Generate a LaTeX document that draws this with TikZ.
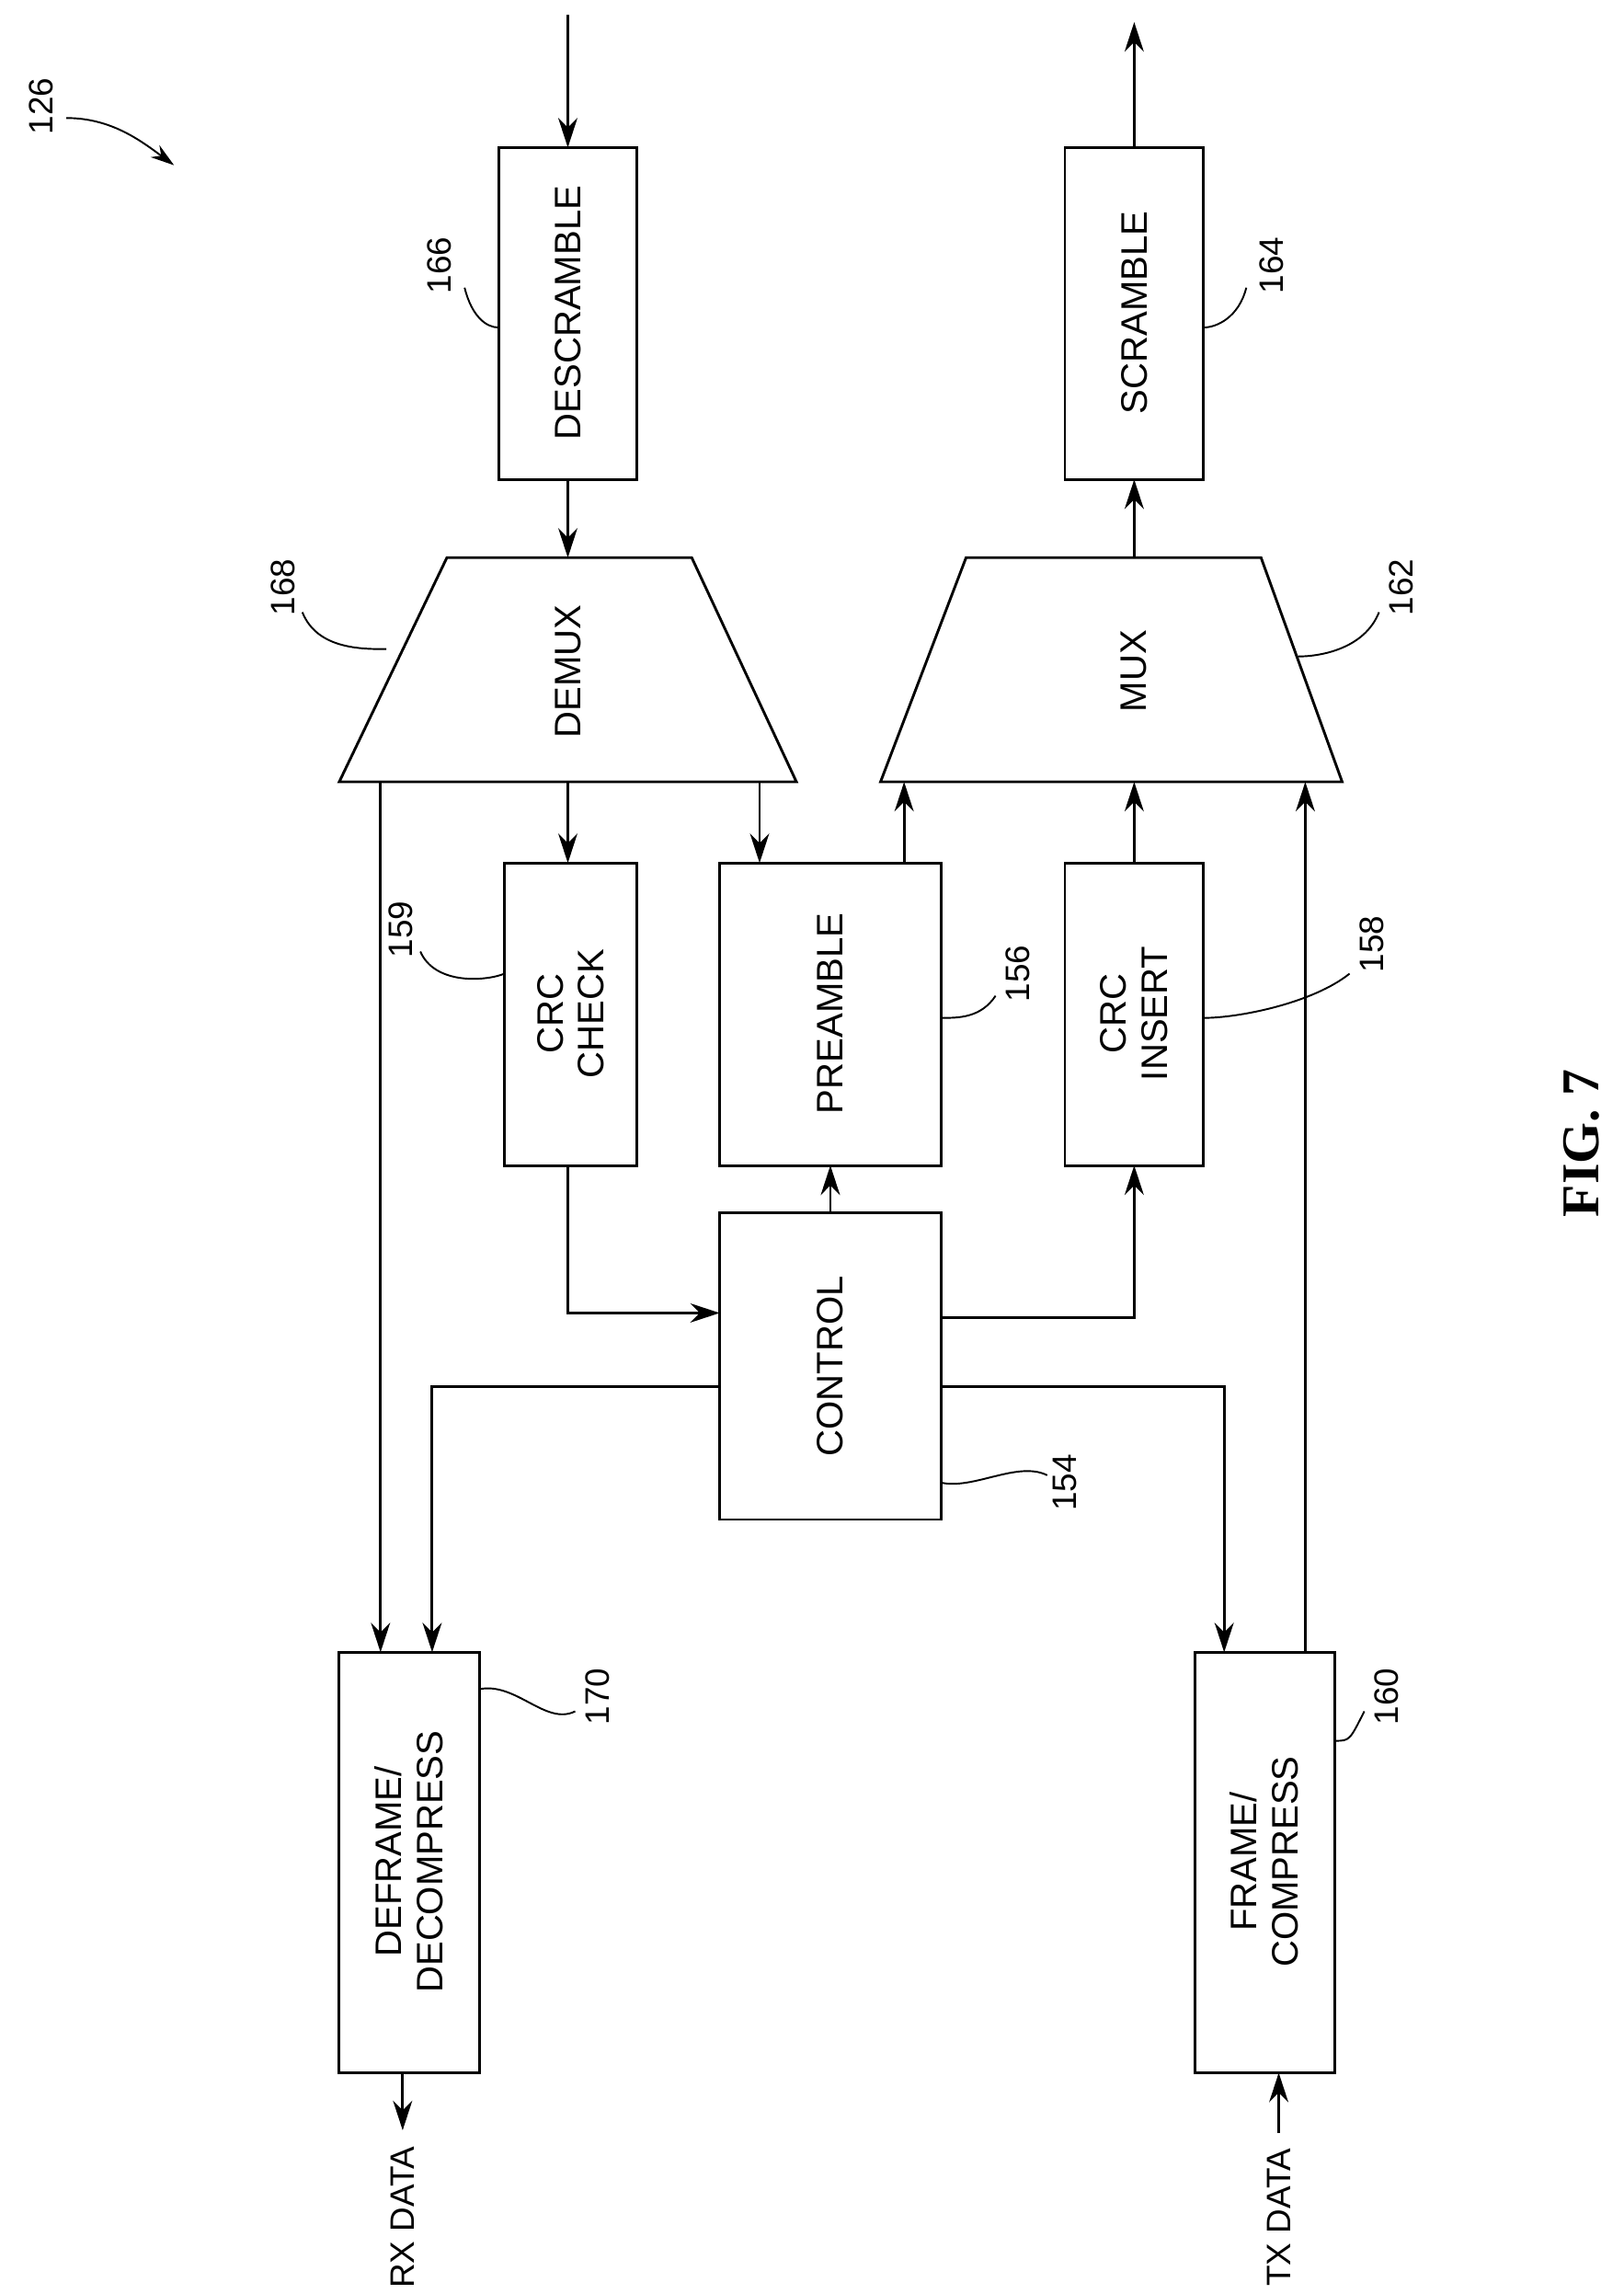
\documentclass[tikz,border=0pt]{standalone}
\usepackage{fontspec}
\setmainfont{Liberation Sans}
\newfontfamily\figfont{Liberation Serif}
\usetikzlibrary{arrows.meta}
\begin{document}
\begin{tikzpicture}[x=1pt,y=-1pt,line width=1.8pt,
  arr/.style={-{Stealth[length=20pt,width=13pt]}},
  box/.style={draw,line width=1.8pt},
  txt/.style={rotate=90,font=\fontsize{25}{28}\selectfont,align=center},
  lbl/.style={rotate=90,font=\fontsize{23}{26}\selectfont},
  lead/.style={line width=1.2pt}]
\useasboundingbox (0,0) rectangle (1101,1555);
% boxes
\draw[box] (338,100) rectangle (432,325); \node[txt] (desc) at (385,212) {DESCRAMBLE};
\draw[box] (722,100) rectangle (816,325); \node[txt] (scr) at (769,212) {SCRAMBLE};
\draw[box] (303,378) -- (469,378) -- (540,530) -- (230,530) -- cycle; \node[txt] (demux) at (385,455) {DEMUX};
\draw[box] (655,378) -- (855,378) -- (910,530) -- (597,530) -- cycle; \node[txt] (mux) at (769,455) {MUX};
\draw[box] (342,585) rectangle (432,790); \node[txt] (crcc) at (387,687) {CRC\\CHECK};
\draw[box] (488,585) rectangle (638,790); \node[txt] (pre) at (563,687) {PREAMBLE};
\draw[box] (722,585) rectangle (816,790); \node[txt] (crci) at (769,687) {CRC\\INSERT};
\draw[box] (488,822) rectangle (638,1030); \node[txt] (ctl) at (563,926) {CONTROL};
\draw[box] (230,1120) rectangle (325,1405); \node[txt] (defr) at (277,1262) {DEFRAME/\\DECOMPRESS};
\draw[box] (810,1120) rectangle (905,1405); \node[txt] (fr) at (857,1262) {FRAME/\\COMPRESS};
% arrows
\coordinate (in) at (385,10); \coordinate (out) at (769,15);
\draw[arr] (in) -- (385,100);
\draw[arr] (769,100) -- (out);
\draw[arr] (385,325) -- (385,378);
\draw[arr] (769,378) -- (769,325);
\draw[arr] (385,530) -- (385,585);
\draw[arr] (515,530) -- (515,585);
\draw[arr] (613,585) -- (613,530);
\draw[arr] (769,585) -- (769,530);
\draw[arr] (563,822) -- (563,790);
\draw[arr] (385,790) -- (385,890) -- (488,890);
\draw[arr] (638,893) -- (769,893) -- (769,790);
\draw[arr] (488,940) -- (293,940) -- (293,1120);
\draw[arr] (638,940) -- (830,940) -- (830,1120);
\draw[arr] (258,530) -- (258,1120);
\draw[arr] (885,1120) -- (885,530);
\coordinate (rxe) at (273,1444); \coordinate (txs) at (867,1446);
\draw[arr] (273,1405) -- (rxe);
\draw[arr] (txs) -- (867,1405);
\node[lbl] (rx) at (273,1503) {RX DATA};
\node[lbl] (tx) at (867,1503) {TX DATA};
% reference labels
\node[lbl] (l126) at (28,72) {126};
\draw[lead,-{Stealth[length=16pt,width=10pt]}] (45,80) .. controls (75,80) and (95,95) .. (118,112);
\node[lbl] (l166) at (298,180) {166};
\draw[lead] (315,195) .. controls (320,215) and (330,222) .. (338,222);
\node[lbl] (l164) at (862,180) {164};
\draw[lead] (845,195) .. controls (840,215) and (825,222) .. (816,222);
\node[lbl] (l168) at (192,398) {168};
\draw[lead] (205,415) .. controls (215,440) and (245,440) .. (262,440);
\node[lbl] (l162) at (950,398) {162};
\draw[lead] (935,415) .. controls (925,440) and (895,445) .. (880,445);
\node[lbl] (l159) at (272,630) {159};
\draw[lead] (285,645) .. controls (295,668) and (330,665) .. (342,660);
\node[lbl] (l156) at (690,660) {156};
\draw[lead] (675,675) .. controls (665,690) and (650,690) .. (638,690);
\node[lbl] (l158) at (930,640) {158};
\draw[lead] (915,660) .. controls (890,680) and (840,690) .. (816,690);
\node[lbl] (l154) at (722,1005) {154};
\draw[lead] (710,1000) .. controls (690,990) and (660,1010) .. (638,1005);
\node[lbl] (l170) at (405,1150) {170};
\draw[lead] (390,1160) .. controls (370,1170) and (350,1140) .. (325,1145);
\node[lbl] (l160) at (940,1150) {160};
\draw[lead] (925,1160) .. controls (915,1180) and (915,1180) .. (905,1180);
\node[rotate=90,font=\figfont\bfseries\fontsize{36}{40}\selectfont] (fig) at (1072,775) {FIG. 7};
\end{tikzpicture}
\end{document}
